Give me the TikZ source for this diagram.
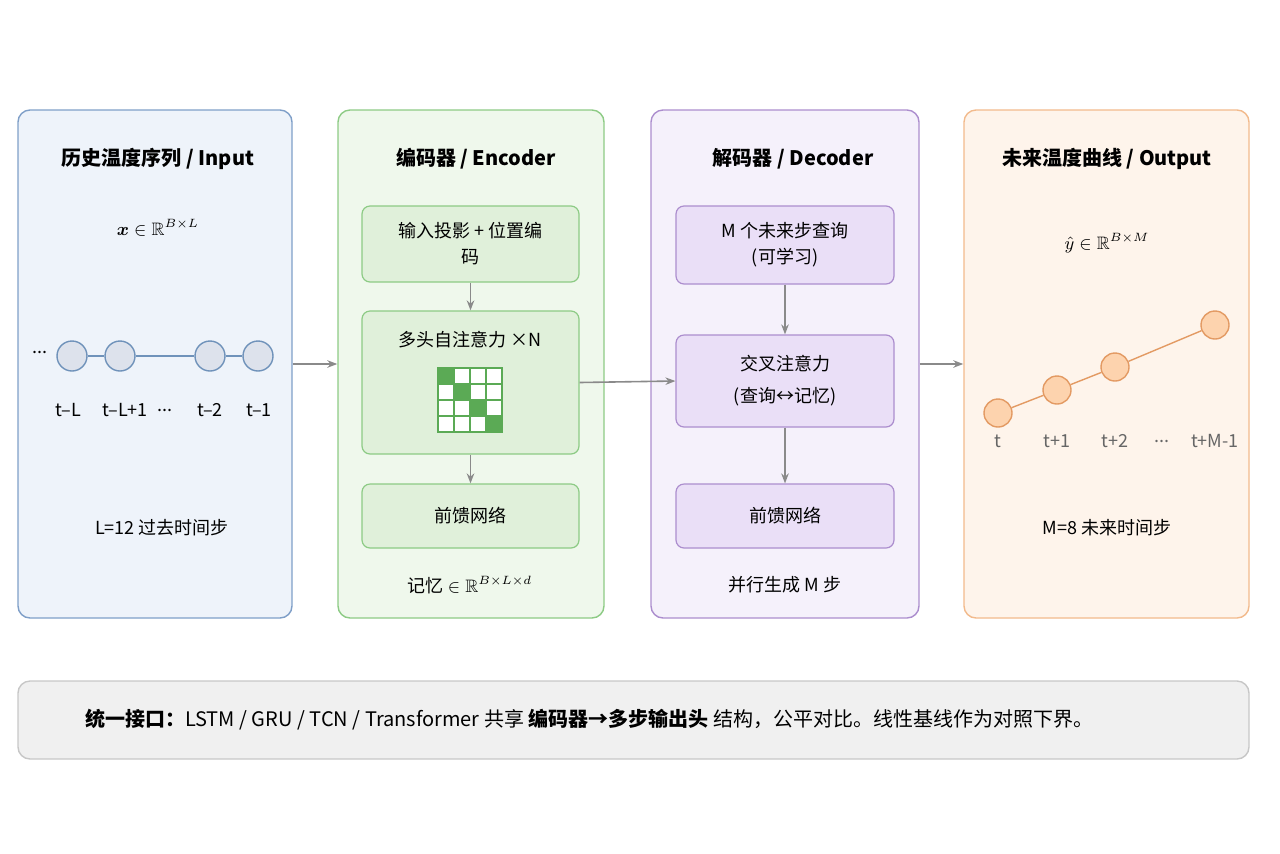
\documentclass[tikz,border=0pt]{standalone}
\usepackage{amssymb}
\usepackage{bm}
\usepackage{fontspec}
\setmainfont{Noto Sans CJK SC}
\usetikzlibrary{positioning,arrows.meta}
\definecolor{bluefill}{HTML}{EEF3FA}\definecolor{blueline}{HTML}{7F9FC8}
\definecolor{greenfill}{HTML}{EFF8EC}\definecolor{greenline}{HTML}{8DCB85}
\definecolor{greenbox}{HTML}{E0F0DA}\definecolor{greendark}{HTML}{5BAA55}
\definecolor{purpfill}{HTML}{F5F1FB}\definecolor{purpline}{HTML}{AC8ECE}
\definecolor{purpbox}{HTML}{EADFF7}
\definecolor{orfill}{HTML}{FEF4EB}\definecolor{orline}{HTML}{F2BA8C}
\definecolor{ordot}{HTML}{FDD3AE}\definecolor{ordotline}{HTML}{E39A63}
\definecolor{dotfill}{HTML}{DDE2EC}\definecolor{dotline}{HTML}{6F92BA}
\definecolor{arr}{HTML}{8A8A8A}
\tikzset{
  panel/.style={draw, rounded corners=6pt, line width=0.7pt, minimum width=#1},
  inner/.style={draw=greenline, fill=greenbox, rounded corners=4pt, line width=0.6pt, minimum width=108.5pt, align=center, font=\fontsize{9}{13}\selectfont},
  title/.style={font=\fontsize{10}{12}\selectfont\bfseries},
  txt/.style={font=\fontsize{9}{12}\selectfont},
  flow/.style={-{Stealth[length=5pt]}, arr, line width=0.8pt},
}
\begin{document}
\begin{tikzpicture}[x=0.5pt, y=-0.5pt]
    \useasboundingbox (0,0) rectangle (1280,853);
    % panels
    \node[panel=137pt, fill=bluefill, draw=blueline, minimum height=254pt] (inp) at (155,364) {};
    \node[panel=133pt, fill=greenfill, draw=greenline, minimum height=254pt] (enc) at (471,364) {};
    \node[panel=134pt, fill=purpfill, draw=purpline, minimum height=254pt] (dec) at (785,364) {};
    \node[panel=142.5pt, fill=orfill, draw=orline, minimum height=254pt] (out) at (1106.5,364) {};
    \node[title] at (158,159) {历史温度序列 / Input};
    \node[title] at (476,159) {编码器 / Encoder};
    \node[title] at (793,159) {解码器 / Decoder};
    \node[title] at (1107,159) {未来温度曲线 / Output};

    % input
    \node[txt] at (158,228) {$\bm{x}\in\mathbb{R}^{B\times L}$};
    \tikzset{xdot/.style={circle, draw=dotline, fill=dotfill, line width=0.7pt, minimum size=15pt, inner sep=0pt}}
    \node[xdot] (x1) at (72,356) {};
    \node[xdot] (x2) at (120,356) {};
    \node[xdot] (x3) at (210,356) {};
    \node[xdot] (x4) at (258,356) {};
    \draw[dotline, line width=0.7pt] (x1) -- (x2) -- (x3) -- (x4);
    \node[txt] at (40,352) {...};
    \node[txt] at (68,410) {t–L};
    \node[txt] at (125,410) {t–L+1};
    \node[txt] at (165,410) {...};
    \node[txt] at (210,410) {t–2};
    \node[txt] at (259,410) {t–1};
    \node[txt] at (162,528) {L=12 过去时间步};

    % encoder
    \node[inner, minimum height=38pt] (proj) at (470.5,244) {输入投影 + 位置编\\码};
    \node[inner, minimum height=71.5pt] (att) at (470.5,382.5) {};
    \node[txt] at (470,340) {多头自注意力 ×N};
    \foreach \i in {0,...,3}
      \foreach \j in {0,...,3} {
        \ifnum\i=\j \def\cc{greendark}\else \def\cc{white}\fi
        \draw[greendark, fill=\cc, line width=0.6pt] (438+16*\i,368+16*\j) rectangle ++(16,16);
      }
    \node[inner, minimum height=32pt] (ffn1) at (470.5,516) {前馈网络};
    \node[txt] at (470,585) {记忆 $\in\mathbb{R}^{B\times L\times d}$};

    % decoder
    \tikzset{pbox/.style={inner, draw=purpline, fill=purpbox, minimum width=109pt}}
    \node[pbox, minimum height=39pt] (qry) at (785,245) {M 个未来步查询\\(可学习)};
    \node[pbox, minimum height=46pt] (cross) at (785,381) {交叉注意力\\[3pt](查询↔记忆)};
    \node[pbox, minimum height=32pt] (ffn2) at (785,516) {前馈网络};
    \node[txt] at (785,585) {并行生成 M 步};

    % output
    \node[txt] at (1107,243) {$\hat{y}\in\mathbb{R}^{B\times M}$};
    \tikzset{ydot/.style={circle, draw=ordotline, fill=ordot, line width=0.7pt, minimum size=14pt, inner sep=0pt}}
    \node[ydot] (y1) at (998,413) {};
    \node[ydot] (y2) at (1057,390) {};
    \node[ydot] (y3) at (1115,367) {};
    \node[ydot] (y4) at (1215,325) {};
    \draw[ordotline, line width=0.7pt] (y1) -- (y2) -- (y3) -- (y4);
    \node[txt, text=black!60] at (998,441) {t};
    \node[txt, text=black!60] at (1057,441) {t+1};
    \node[txt, text=black!60] at (1115,441) {t+2};
    \node[txt, text=black!60] at (1162,441) {...};
    \node[txt, text=black!60] at (1215,441) {t+M-1};
    \node[txt] at (1107,528) {M=8 未来时间步};

    % arrows
    \draw[flow] (inp.east) -- (enc.west);
    \draw[flow] (att.east) -- (cross.west);
    \draw[flow] (dec.east) -- (out.west);
    \draw[flow] (proj) -- (att);
    \draw[flow] (att) -- (ffn1);
    \draw[flow] (qry) -- (cross);
    \draw[flow] (cross) -- (ffn2);

    % banner
    \node[draw=black!22, fill=black!6, rounded corners=6pt, line width=0.7pt, minimum width=615.5pt, minimum height=39pt] (note) at (633.5,720) {};
    \node[font=\fontsize{10}{12}\selectfont, anchor=west] at (78,720) {\textbf{统一接口：}LSTM / GRU / TCN / Transformer 共享 \textbf{编码器→多步输出头} 结构，公平对比。线性基线作为对照下界。};
\end{tikzpicture}
\end{document}
